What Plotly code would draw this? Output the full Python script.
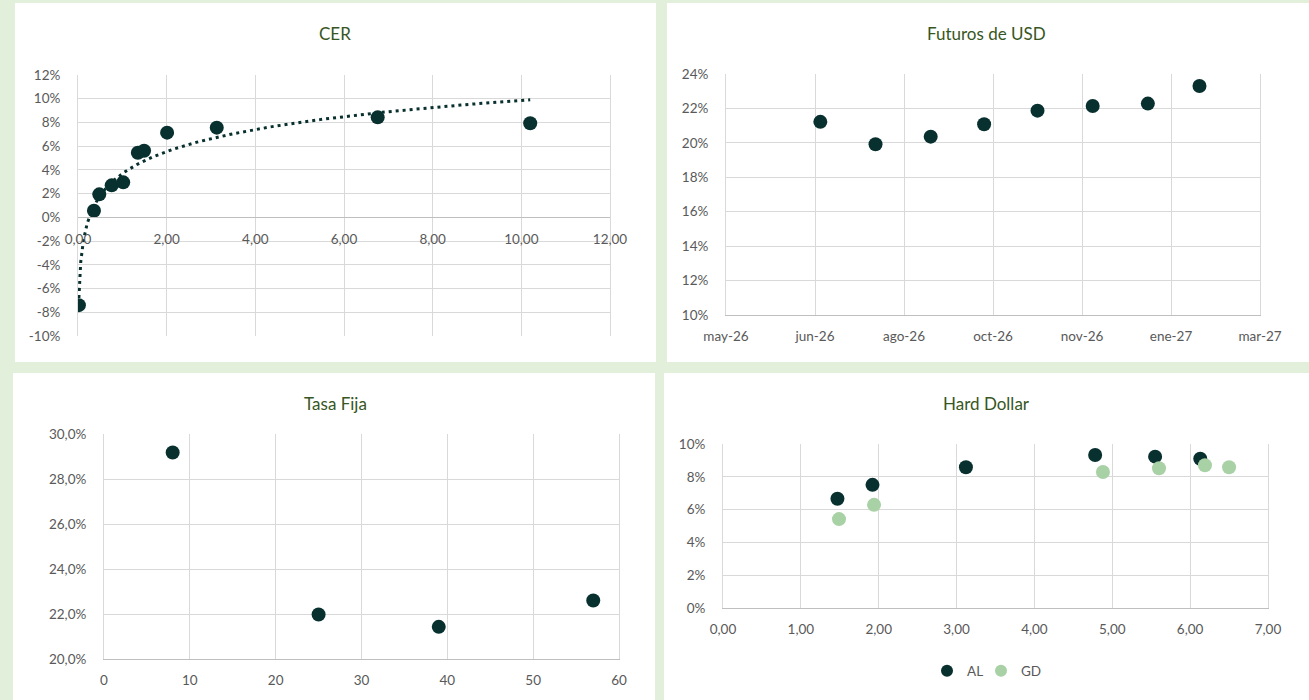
import numpy as np
import plotly.graph_objects as go

W, H = 1309, 700

# ---------------- data ----------------
cer_x = [0.02, 0.36, 0.48, 0.76, 1.02, 1.35, 1.49, 2.01, 3.13, 6.76, 10.20]
cer_y = [-0.074, 0.0056, 0.0194, 0.027, 0.0295, 0.0545, 0.0562, 0.0714, 0.0756, 0.0843, 0.0793]
cer_yticks = [-10, -8, -6, -4, -2, 0, 2, 4, 6, 8, 10, 12]

fut_dates = ["2026-06-30", "2026-07-31", "2026-08-31", "2026-09-30",
             "2026-10-30", "2026-11-30", "2026-12-31", "2027-01-29"]
fut_y = [0.2122, 0.1992, 0.2036, 0.2108, 0.2187, 0.2214, 0.2228, 0.2330]
fut_tickvals = ["2026-05-08", "2026-06-27", "2026-08-16", "2026-10-05",
                "2026-11-24", "2027-01-13", "2027-03-04"]
fut_ticktext = ["may-26", "jun-26", "ago-26", "oct-26", "nov-26", "ene-27", "mar-27"]

tf_x = [8, 25, 39, 57]
tf_y = [0.2918, 0.2198, 0.2143, 0.2260]

al_x = [1.47, 1.92, 3.12, 4.78, 5.55, 6.13]
al_y = [0.0666, 0.0751, 0.0858, 0.0933, 0.0923, 0.0910]
gd_x = [1.49, 1.94, 4.88, 5.60, 6.19, 6.50]
gd_y = [0.0542, 0.0629, 0.0829, 0.0852, 0.0870, 0.0858]

# ---------------- style ----------------
DARK = "#08302F"
LIGHT = "#A9D1A6"
BG = "#E2EFDA"
GRID = "#D9D9D9"
AXIS = "#BFBFBF"
TXT = "#595959"
TITLE = "#375623"
FONT = "Lato"
TICKF = dict(family=FONT, size=13.5, color=TXT)
MS = 14


def dom_x(a, b):
    return [a / W, b / W]


def dom_y(top, bottom):
    return [1 - bottom / H, 1 - top / H]


fig = go.Figure()

# CER scatter + log trendline (least-squares fit on ln(x), like Excel)
a, b = np.polyfit(np.log(cer_x), cer_y, 1)
tx = np.geomspace(min(cer_x), max(cer_x), 300)
ty = a * np.log(tx) + b
fig.add_trace(go.Scatter(x=tx, y=ty, mode="lines", xaxis="x", yaxis="y",
                         line=dict(color=DARK, width=3, dash="3px,4px"),
                         showlegend=False, hoverinfo="skip"))
fig.add_trace(go.Scatter(x=cer_x, y=cer_y, mode="markers", xaxis="x", yaxis="y",
                         marker=dict(color=DARK, size=MS), showlegend=False))

fig.add_trace(go.Scatter(x=fut_dates, y=fut_y, mode="markers", xaxis="x2", yaxis="y2",
                         marker=dict(color=DARK, size=MS), showlegend=False))

fig.add_trace(go.Scatter(x=tf_x, y=tf_y, mode="markers", xaxis="x3", yaxis="y3",
                         marker=dict(color=DARK, size=MS), showlegend=False))

fig.add_trace(go.Scatter(x=al_x, y=al_y, mode="markers", xaxis="x4", yaxis="y4", name="AL",
                         marker=dict(color=DARK, size=MS), legend="legend"))
fig.add_trace(go.Scatter(x=gd_x, y=gd_y, mode="markers", xaxis="x4", yaxis="y4", name="GD",
                         marker=dict(color=LIGHT, size=MS), legend="legend2"))

common_x = dict(showgrid=True, gridcolor=GRID, gridwidth=1, zeroline=False,
                tickfont=TICKF, ticks="", ticklabelstandoff=9, automargin=False,
                showline=True, linecolor=AXIS, linewidth=1.3)
common_y = dict(showgrid=True, gridcolor=GRID, gridwidth=1, zeroline=False,
                tickfont=TICKF, ticks="", ticklabelstandoff=14, automargin=False,
                showline=True, linecolor=GRID, linewidth=1, mirror=True)

# CER domains
cx = dom_x(78, 610)
cy = dom_y(75, 336)
cer_lo, cer_hi = cer_yticks[0] / 100, cer_yticks[-1] / 100
zero_pos = cy[0] + (0 - cer_lo) / (cer_hi - cer_lo) * (cy[1] - cy[0])

leg_common = dict(orientation="h", yanchor="middle", xanchor="left",
                  font=dict(family=FONT, size=13.5, color=TXT), bgcolor="rgba(0,0,0,0)",
                  itemsizing="constant", itemwidth=30, borderwidth=0)

layout = dict(
    template="none",
    width=W, height=H,
    margin=dict(l=0, r=0, t=0, b=0, pad=0, autoexpand=False),
    paper_bgcolor=BG, plot_bgcolor="rgba(0,0,0,0)",
    separators=",.",
    font=dict(family=FONT, color=TXT),
    xaxis=dict(common_x, domain=cx, range=[0, 12], tickvals=[0, 2, 4, 6, 8, 10, 12],
               tickformat=".2f", anchor="free", position=zero_pos),
    yaxis=dict(common_y, domain=cy, range=[cer_lo, cer_hi], anchor="x",
               tickvals=[v / 100 for v in cer_yticks],
               ticktext=[f"{v}%" for v in cer_yticks]),
    xaxis2=dict(common_x, domain=dom_x(726, 1260), type="date",
                range=[fut_tickvals[0], fut_tickvals[-1]],
                tickvals=fut_tickvals, ticktext=fut_ticktext, anchor="y2"),
    yaxis2=dict(common_y, domain=dom_y(74, 315), range=[0.10, 0.24], dtick=0.02,
                tickformat=".0%", anchor="x2"),
    xaxis3=dict(common_x, domain=dom_x(104, 619), range=[0, 60], dtick=10, anchor="y3"),
    yaxis3=dict(common_y, domain=dom_y(434, 659), range=[0.20, 0.30], dtick=0.02,
                tickformat=".1%", anchor="x3"),
    xaxis4=dict(common_x, domain=dom_x(723, 1268), range=[0, 7], dtick=1,
                tickformat=".2f", anchor="y4"),
    yaxis4=dict(common_y, domain=dom_y(444, 608), range=[0, 0.10], dtick=0.02,
                tickformat=".0%", anchor="x4"),
    showlegend=True,
    legend=dict(leg_common, x=(947 - 20) / W, y=1 - 671 / H),
    legend2=dict(leg_common, x=(1001 - 20) / W, y=1 - 671 / H),
)

panels = [(15, 3, 656, 362), (667, 3, 1309, 362), (13, 373, 655, 700), (664, 373, 1309, 700)]
layout["shapes"] = [dict(type="rect", xref="paper", yref="paper", layer="below",
                         x0=x0 / W, x1=x1 / W, y0=1 - y1 / H, y1=1 - y0 / H,
                         fillcolor="white", line=dict(width=0))
                    for (x0, y0, x1, y1) in panels]

titles = [("CER", 335, 33), ("Futuros de USD", 986, 33), ("Tasa Fija", 335, 403),
          ("Hard Dollar", 986, 403)]
layout["annotations"] = [dict(text=t, x=x / W, y=1 - y / H, xref="paper", yref="paper",
                              showarrow=False, xanchor="center", yanchor="middle",
                              font=dict(family=FONT, size=17, color=TITLE))
                         for (t, x, y) in titles]

fig.update_layout(layout)
fig.write_html(
    "out.html",
    config={"displayModeBar": False},
    post_script=(
        "document.documentElement.style.margin='0';"
        "document.documentElement.style.overflow='hidden';"
        "document.body.style.margin='0';"
        "document.body.style.padding='0';"
        "document.body.style.overflow='hidden';"
        "document.body.style.background='" + BG + "';"
    ),
)
